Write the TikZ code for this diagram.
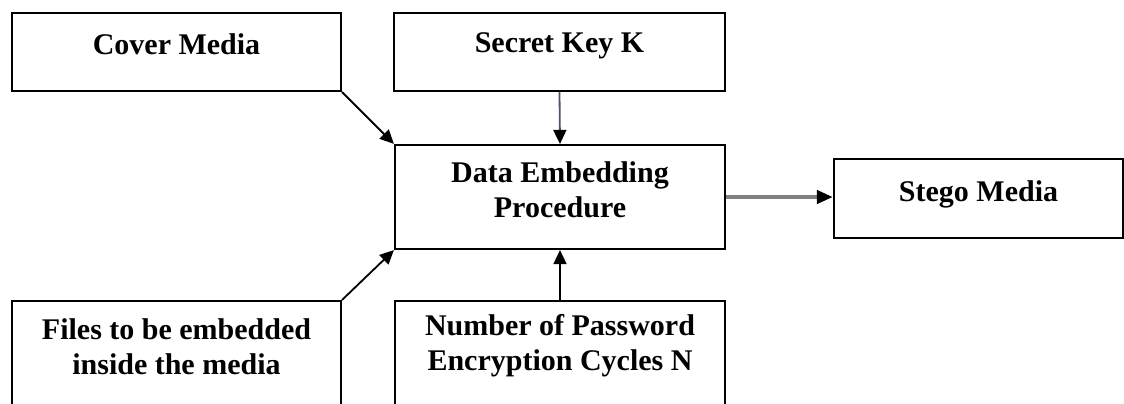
\documentclass[tikz,border=0pt]{standalone}
\usepackage{fontspec}
\setmainfont{Liberation Serif}
\usetikzlibrary{arrows.meta}
\definecolor{keyline}{RGB}{80,80,105}
\begin{document}
\begin{tikzpicture}[x=0.5pt,y=-0.5pt,
  box/.style={draw=black,line width=1.1pt,rectangle,inner sep=0pt},
  lbl/.style={font=\fontsize{15}{17.5}\selectfont\bfseries,align=center,inner sep=0pt},
  arr/.style={line width=0.9pt,-{Triangle[length=7pt,width=6.5pt,color=black]}}]
\useasboundingbox (0,0) rectangle (1124,403);
\clip (0,0) rectangle (1124,403);
\node[box,minimum width=164.5pt,minimum height=39pt] (cover) at (176.5,52) {};
\node[box,minimum width=165.5pt,minimum height=39pt] (secret) at (559.5,52) {};
\node[box,minimum width=165pt,minimum height=52pt] (data) at (560,197) {};
\node[box,minimum width=144.5pt,minimum height=39.5pt] (stego) at (978.5,198.5) {};
\node[box,minimum width=164.5pt,minimum height=60pt] (files) at (176.5,361) {};
\node[box,minimum width=165pt,minimum height=60pt] (number) at (560,361) {};
\node[lbl] (tcover) at (176.5,44) {Cover Media};
\node[lbl] (tsecret) at (559.5,46) {Secret Key K};
\node[lbl] (tdata) at (560,190) {Data Embedding\\Procedure};
\node[lbl] (tstego) at (978.5,194) {Stego Media};
\node[lbl] (tfiles) at (176.5,347) {Files to be embedded\\inside the media};
\node[lbl] (tnumber) at (560,346) {Number of Password\\Encryption Cycles N};
\draw[arr] (cover.south east) -- (data.north west);
\draw[arr] (files.north east) -- (data.south west);
\draw[arr,draw=keyline] (secret.south) -- (data.north);
\draw[arr] (number.north) -- (data.south);
\draw[line width=2pt,draw=black!50,-{Triangle[length=8pt,width=6.5pt,color=black]}] (data.east) -- (data.east -| stego.west);
\end{tikzpicture}
\end{document}
